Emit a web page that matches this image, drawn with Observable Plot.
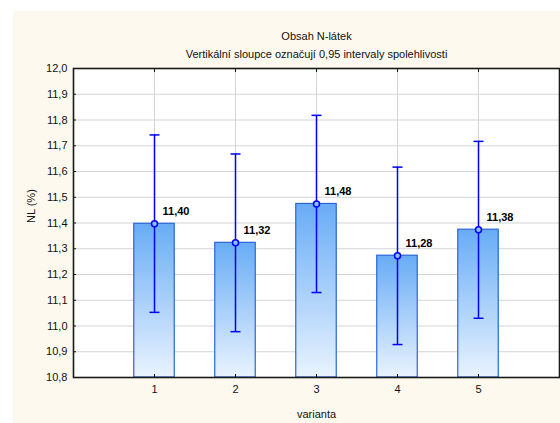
<!DOCTYPE html>
<html>
<head>
<meta charset="utf-8">
<script src="https://cdn.jsdelivr.net/npm/d3@7"></script>
<script src="https://cdn.jsdelivr.net/npm/@observablehq/plot@0.6"></script>
<style>
  html, body { margin: 0; padding: 0; background: #ffffff; }
  #wrap { position: relative; width: 560px; height: 423px; }
  #bg { position: absolute; left: 13px; top: 11px; right: 0; bottom: 0; background: #fdf9ee; }
  #chart { position: absolute; left: 0; top: 0; }
  #chart svg { background: transparent; }
</style>
</head>
<body>
<div id="wrap"><div id="bg"></div><div id="chart"></div></div>
<script>
const varianta = [1, 2, 3, 4, 5];
const means = [11.397, 11.323, 11.474, 11.273, 11.374];
const lower = [11.053, 10.978, 11.130, 10.928, 11.030];
const upper = [11.742, 11.668, 11.818, 11.617, 11.717];
const labels = ["11,40", "11,32", "11,48", "11,28", "11,38"];
const yTicks = [10.8, 10.9, 11.0, 11.1, 11.2, 11.3, 11.4, 11.5, 11.6, 11.7, 11.8, 11.9, 12.0];
const title = "Obsah N-látek";
const subtitle = "Vertikální sloupce označují 0,95 intervaly spolehlivosti";
const xLabel = "varianta";
const yLabel = "NL (%)";

const data = varianta.map((v, i) => ({v, mean: means[i], lo: lower[i], hi: upper[i], label: labels[i]}));
const halfBar = 0.25;
const fmt = d => d.toFixed(1).replace(".", ",");

const capSymbol = {
  draw(ctx, size) {
    const w = Math.sqrt(size / Math.PI);
    ctx.moveTo(-w, 0);
    ctx.lineTo(w, 0);
  }
};

const defs = () => {
  const g = d3.create("svg:defs");
  const lg = g.append("linearGradient").attr("id", "barGrad").attr("x1", 0).attr("y1", 0).attr("x2", 0).attr("y2", 1);
  lg.append("stop").attr("offset", "0%").attr("stop-color", "#68acf6");
  lg.append("stop").attr("offset", "100%").attr("stop-color", "#e9f3fe");
  return g.node();
};

const chart = Plot.plot({
  width: 560,
  height: 423,
  marginLeft: 73,
  marginRight: 1,
  marginTop: 68,
  marginBottom: 46,
  style: {fontFamily: "Liberation Sans, Arial, sans-serif", fontSize: "11px", color: "#111", background: "transparent"},
  x: {type: "linear", domain: [0, 6]},
  y: {domain: [10.8, 12.0]},
  marks: [
    defs,
    Plot.frame({fill: "white", stroke: null}),
    Plot.gridY(yTicks, {stroke: "#d4d4d4", strokeOpacity: 1}),
    Plot.gridX(varianta, {stroke: "#d4d4d4", strokeOpacity: 1}),
    Plot.rectY(data, {
      x1: d => d.v - halfBar, x2: d => d.v + halfBar, y1: 10.8, y2: "mean",
      fill: "url(#barGrad)", stroke: "#2a66d8", strokeWidth: 1.2
    }),
    Plot.ruleX(data, {x: "v", y1: "lo", y2: "hi", stroke: "#0000ff", strokeWidth: 1.5}),
    Plot.dot(data, {x: "v", y: "lo", symbol: capSymbol, r: 5, stroke: "#0000ff", strokeWidth: 1.5}),
    Plot.dot(data, {x: "v", y: "hi", symbol: capSymbol, r: 5, stroke: "#0000ff", strokeWidth: 1.5}),
    Plot.dot(data, {x: "v", y: "mean", r: 3, stroke: "#0000ff", fill: "#8cc0f8", strokeWidth: 1.5}),
    Plot.text(data, {x: "v", y: "mean", text: "label", dx: 8, dy: -12, textAnchor: "start", fontWeight: "bold", fontSize: 11, fill: "#000"}),
    Plot.axisY(yTicks, {anchor: "left", tickSize: -3, tickPadding: 9, tickFormat: fmt, label: null, fontSize: 11}),
    Plot.axisY(yTicks, {anchor: "right", tickSize: 3, tickFormat: () => "", label: null}),
    Plot.axisX(varianta, {anchor: "bottom", tickSize: -3, tickPadding: 11, tickFormat: d => String(d), label: null, fontSize: 11}),
    Plot.axisX(varianta, {anchor: "top", tickSize: -3, tickFormat: () => "", label: null}),
    Plot.frame({stroke: "#1a1a1a", strokeWidth: 1.6}),
    Plot.text([title], {frameAnchor: "top", dy: -36, fontSize: 11, fill: "#111"}),
    Plot.text([subtitle], {frameAnchor: "top", dy: -18, fontSize: 11, fill: "#111"}),
    Plot.text([xLabel], {frameAnchor: "bottom", dy: 40, fontSize: 11, fill: "#111"}),
    Plot.text([yLabel], {frameAnchor: "left", dx: -42, rotate: -90, fontSize: 11, fill: "#111"})
  ]
});
document.getElementById("chart").append(chart);
</script>
</body>
</html>
